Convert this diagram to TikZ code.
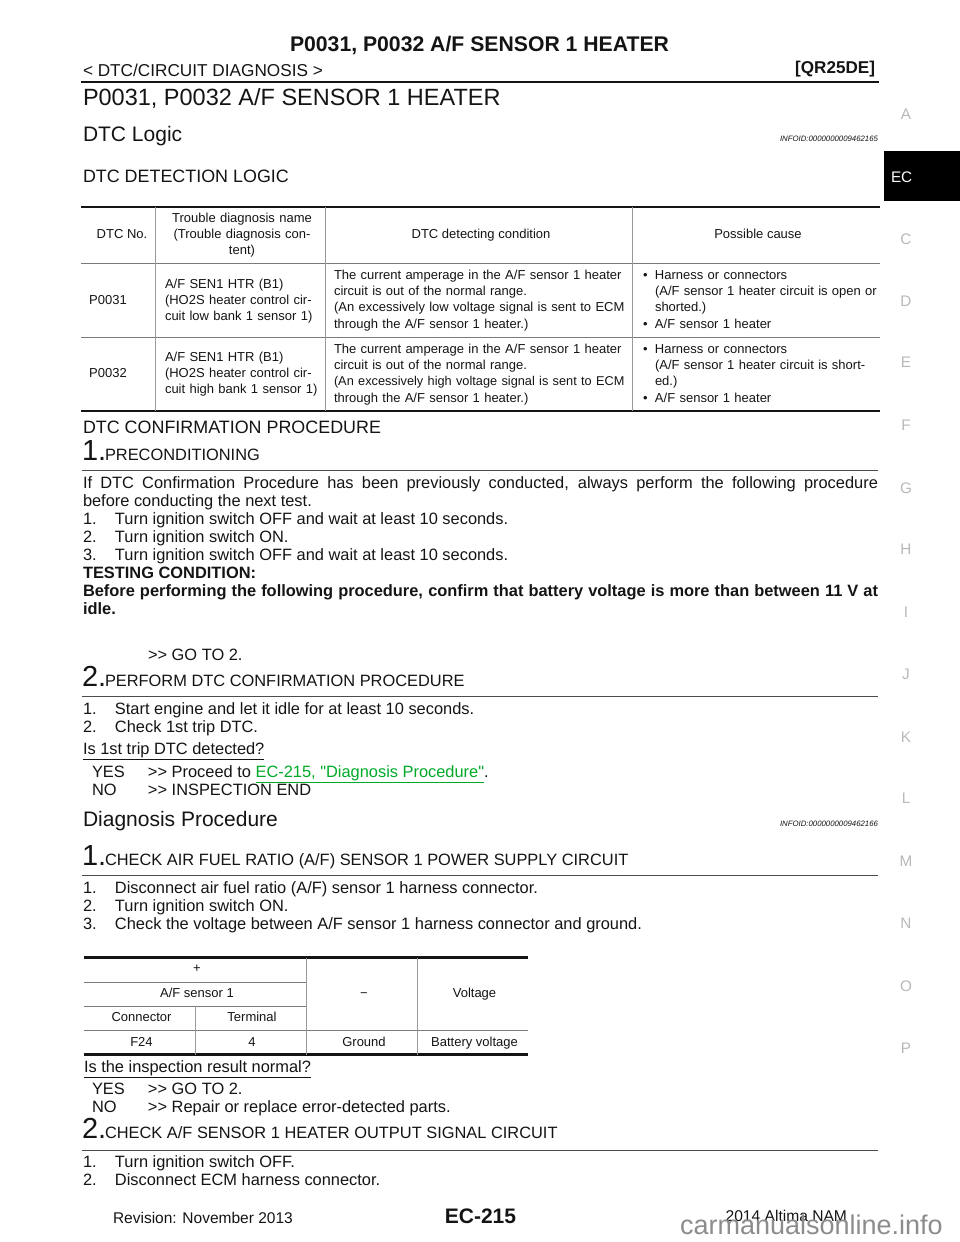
\documentclass[tikz,border=0pt]{standalone}
\usepackage{fontspec}
\setmainfont{Liberation Sans}[Ligatures=TeXOff]
\definecolor{inkblk}{gray}{0.08}
\definecolor{tabgray}{gray}{0.72}
\definecolor{sepgray}{gray}{0.6}
\definecolor{linkgreen}{RGB}{0,170,40}
\definecolor{markgray}{gray}{0.55}
\newcommand{\tabbul}{\makebox[12pt][l]{•}}
\newcommand{\tabind}{\hspace*{12pt}}
\newcommand{\stepno}[1]{\makebox[32pt][l]{#1}}
\newcommand{\goans}[1]{\makebox[56pt][l]{#1}}
\tikzset{
  every node/.style={inner sep=0pt,outer sep=0pt,text=inkblk},
  bodytxt/.style={anchor=base west,font=\fontsize{16.4}{18}\selectfont},
  boxtxt/.style={bodytxt,text width=795pt,align=justify},
  stephead/.style={anchor=base west,font=\fontsize{16.4}{18}\selectfont},
  stepnum/.style={anchor=base west,font=\fontsize{29}{30}\selectfont},
  subhead/.style={anchor=base west,font=\fontsize{17.9}{20}\selectfont},
  midhead/.style={anchor=base west,font=\fontsize{21}{24}\selectfont},
  infoid/.style={anchor=base east,font=\fontsize{7.8}{10}\itshape\selectfont},
  celltxt/.style={anchor=base,font=\fontsize{13}{16.4}\selectfont},
  cellleft/.style={anchor=base west,font=\fontsize{13}{16.4}\selectfont,text width=#1,align=left},
  cellmid/.style={anchor=base,font=\fontsize{13}{16.4}\selectfont,text width=#1,align=center},
  tabmark/.style={anchor=center,font=\fontsize{15.3}{18}\selectfont,text=tabgray},
  heavy/.style={line width=2.4pt,draw=inkblk},
  rowrule/.style={line width=1pt,draw=sepgray!80!black},
  colrule/.style={line width=1pt,draw=sepgray},
  steprule/.style={line width=1pt,draw=black!70}
}
\begin{document}
\begin{tikzpicture}[x=1pt,y=-1pt]
  \useasboundingbox (0,0) rectangle (960,1242);

  % page header
  \node[anchor=base,font=\fontsize{21.2}{24}\bfseries\selectfont] (pagetitle) at (479.5,51) {P0031, P0032 A/F SENSOR 1 HEATER};
  \node[anchor=base west,font=\fontsize{17.2}{20}\selectfont] (crumb) at (83,76) {< DTC/CIRCUIT DIAGNOSIS >};
  \node[anchor=base east,font=\fontsize{17.1}{20}\bfseries\selectfont] (engine) at (875,73) {[QR25DE]};
  \draw[heavy] (81,82) -- (879,82);
  \node[anchor=base west,font=\fontsize{23.5}{28}\selectfont] (maintitle) at (83,105) {P0031, P0032 A/F SENSOR 1 HEATER};

  % side tabs
  \fill[black] (884,150.5) rectangle (960,201);
  \node[anchor=base west,font=\fontsize{15.3}{18}\selectfont,text=white] (tabEC) at (891,182) {EC};
  \foreach \tabname/\tabpos in {A/114,C/239,D/301,E/362,F/425,G/488,H/549,I/612,J/674,K/737,L/798,M/861,N/923,O/986,P/1048}
    \node[tabmark] (tab\tabname) at (906,\tabpos) {\tabname};

  % DTC logic
  \node[midhead] (logichead) at (83,141) {DTC Logic};
  \node[infoid] (infoone) at (878,141) {INFOID:0000000009462165};
  \node[subhead] (detecthead) at (83,182) {DTC DETECTION LOGIC};

  % first table
  \draw[heavy] (81,207) -- (880,207);
  \draw[rowrule] (81,263.5) -- (880,263.5);
  \draw[rowrule] (81,337.5) -- (880,337.5);
  \draw[heavy] (81,411) -- (880,411);
  \foreach \colx in {155.5,325.5,632.5}
    \draw[colrule] (\colx,207) -- (\colx,411);

  \node[celltxt] (hdno) at (122,238) {DTC No.};
  \node[cellmid=168pt] (hdname) at (242,222) {Trouble diagnosis name\\(Trouble diagnosis con-\\tent)};
  \node[celltxt] (hdcond) at (481,238) {DTC detecting condition};
  \node[celltxt] (hdcause) at (758,238) {Possible cause};

  \node[celltxt] (codeone) at (108,304) {P0031};
  \node[cellleft=168pt] (nameone) at (165,288) {A/F SEN1 HTR (B1)\\(HO2S heater control cir-\\cuit low bank 1 sensor 1)};
  \node[cellleft=300pt] (condone) at (334,279) {The current amperage in the A/F sensor 1 heater\\circuit is out of the normal range.\\(An excessively low voltage signal is sent to ECM\\through the A/F sensor 1 heater.)};
  \node[cellleft=240pt] (causeone) at (643,279) {\tabbul Harness or connectors\\\tabind (A/F sensor 1 heater circuit is open or\\\tabind shorted.)\\\tabbul A/F sensor 1 heater};

  \node[celltxt] (codetwo) at (108,377) {P0032};
  \node[cellleft=168pt] (nametwo) at (165,361) {A/F SEN1 HTR (B1)\\(HO2S heater control cir-\\cuit high bank 1 sensor 1)};
  \node[cellleft=300pt] (condtwo) at (334,353) {The current amperage in the A/F sensor 1 heater\\circuit is out of the normal range.\\{\fontsize{12.75}{16.4}\selectfont(An excessively high voltage signal is sent to ECM}\\through the A/F sensor 1 heater.)};
  \node[cellleft=240pt] (causetwo) at (643,353) {\tabbul Harness or connectors\\\tabind (A/F sensor 1 heater circuit is short-\\\tabind ed.)\\\tabbul A/F sensor 1 heater};

  % confirmation procedure
  \node[subhead] (confhead) at (83,433) {DTC CONFIRMATION PROCEDURE};
  \node[stepnum] (confnumone) at (82,460) {1.};
  \node[stephead] (confstepone) at (105,460) {PRECONDITIONING};
  \draw[steprule] (82,470.5) -- (878,470.5);
  \node[boxtxt] (confbody) at (83,488) {If DTC Confirmation Procedure has been previously conducted, always perform the following procedure\linebreak before conducting the next test.\\
    \stepno{1.}Turn ignition switch OFF and wait at least 10 seconds.\\
    \stepno{2.}Turn ignition switch ON.\\
    \stepno{3.}Turn ignition switch OFF and wait at least 10 seconds.\\
    \textbf{TESTING CONDITION:}\\
    \textbf{Before performing the following procedure, confirm that battery voltage is more than between 11 V at idle.}};
  \node[bodytxt] (confgo) at (148,660) {>> GO TO 2.};

  \node[stepnum] (confnumtwo) at (82,686) {2.};
  \node[stephead] (confsteptwo) at (105,686) {PERFORM DTC CONFIRMATION PROCEDURE};
  \draw[steprule] (82,696.5) -- (878,696.5);
  \node[boxtxt] (confrun) at (83,714) {\stepno{1.}Start engine and let it idle for at least 10 seconds.\\\stepno{2.}Check 1st trip DTC.};
  \node[bodytxt] (confask) at (83,754) {\underline{Is 1st trip DTC detected?}};
  \node[bodytxt] (confyes) at (92,777) {\goans{YES}>> Proceed to \textcolor{linkgreen}{\underline{EC-215, "Diagnosis Procedure"}}.};
  \node[bodytxt] (confno) at (92,795) {\goans{NO}>> INSPECTION END};

  % diagnosis procedure
  \node[midhead] (diaghead) at (83,826) {Diagnosis Procedure};
  \node[infoid] (infotwo) at (878,826) {INFOID:0000000009462166};
  \node[stepnum] (diagnumone) at (82,865) {1.};
  \node[stephead] (diagstepone) at (105,865) {CHECK AIR FUEL RATIO (A/F) SENSOR 1 POWER SUPPLY CIRCUIT};
  \draw[steprule] (82,875.5) -- (878,875.5);
  \node[boxtxt] (diagbody) at (83,893) {\stepno{1.}Disconnect air fuel ratio (A/F) sensor 1 harness connector.\\\stepno{2.}Turn ignition switch ON.\\\stepno{3.}Check the voltage between A/F sensor 1 harness connector and ground.};

  % voltage table
  \draw[heavy] (84,957.5) -- (528,957.5);
  \draw[rowrule] (84,982) -- (306,982);
  \draw[rowrule] (84,1006) -- (306,1006);
  \draw[rowrule] (84,1030) -- (528,1030);
  \draw[heavy] (84,1054.5) -- (528,1054.5);
  \draw[colrule] (195,1006) -- (195,1054.5);
  \draw[colrule] (306,957.5) -- (306,1054.5);
  \draw[colrule] (417,957.5) -- (417,1054.5);

  \node[celltxt] (plusmark) at (197,972) {+};
  \node[celltxt] (sensorhd) at (197,997) {A/F sensor 1};
  \node[celltxt] (connhd) at (141.5,1021) {Connector};
  \node[celltxt] (termhd) at (252,1021) {Terminal};
  \node[celltxt] (minusmark) at (364,997) {−};
  \node[celltxt] (volthd) at (474.5,997) {Voltage};
  \node[celltxt] (connval) at (141.5,1046) {F24};
  \node[celltxt] (termval) at (252,1046) {4};
  \node[celltxt] (gndval) at (364,1046) {Ground};
  \node[celltxt] (voltval) at (474.5,1046) {Battery voltage};

  \node[bodytxt] (diagask) at (84,1072) {\underline{Is the inspection result normal?}};
  \node[bodytxt] (diagyes) at (92,1094) {\goans{YES}>> GO TO 2.};
  \node[bodytxt] (diagno) at (92,1112) {\goans{NO}>> Repair or replace error-detected parts.};
  \node[stepnum] (diagnumtwo) at (82,1138) {2.};
  \node[stephead] (diagsteptwo) at (105,1138) {CHECK A/F SENSOR 1 HEATER OUTPUT SIGNAL CIRCUIT};
  \draw[steprule] (82,1150.5) -- (878,1150.5);
  \node[boxtxt] (diagend) at (83,1167) {\stepno{1.}Turn ignition switch OFF.\\\stepno{2.}Disconnect ECM harness connector.};

  % page footer
  \node[anchor=base west,font=\fontsize{15.5}{18}\selectfont] (revision) at (113,1223) {Revision: November 2013};
  \node[anchor=base,font=\fontsize{21}{24}\bfseries\selectfont] (pageno) at (480.5,1223) {EC-215};
  \node[anchor=base east,font=\fontsize{15.6}{18}\selectfont] (model) at (847,1221) {2014 Altima NAM};
  \node[anchor=base west,font=\fontsize{27}{28}\selectfont,text=markgray] (watermark) at (680,1234) {carmanualsonline.info};
\end{tikzpicture}
\end{document}
